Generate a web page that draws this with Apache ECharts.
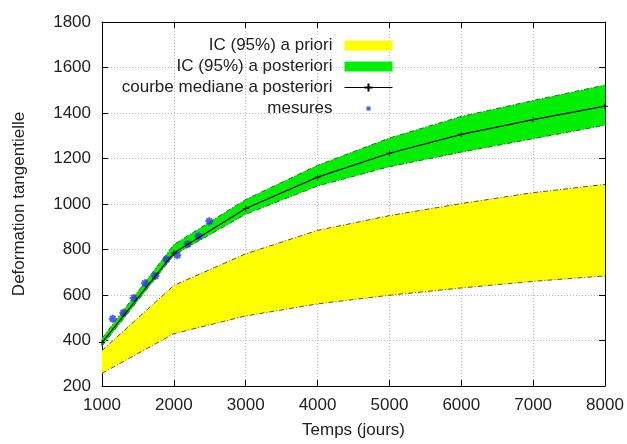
<!DOCTYPE html>
<html style="height: 100%">

<head>
    <meta charset="utf-8">
</head>

<body style="height: 100%; margin: 0; background: #fff">
    <div id="container" style="width: 627px; height: 444px"></div>
    <script src="https://cdn.jsdelivr.net/npm/echarts@6/dist/echarts.min.js"></script>
    <script type="text/javascript">
        // temps (jours)
        var temps = [1000, 2000, 3000, 4000, 5000, 6000, 7000, 8000];
        // IC 95% a priori
        var prioriBas = [256, 430, 508, 561, 599, 631, 660, 684];
        var prioriHaut = [356, 642, 781, 884, 949, 1002, 1050, 1086];
        // IC 95% a posteriori
        var postBas = [376, 775, 955, 1079, 1164, 1228, 1287, 1346];
        var postHaut = [410, 822, 1020, 1170, 1290, 1385, 1455, 1523];
        // courbe mediane
        var mediane = [391, 785, 980, 1118, 1223, 1306, 1371, 1430];
        // mesures
        var mesuresT = [1149, 1297, 1441, 1598, 1742, 1895, 2048, 2192, 2345, 2493];
        var mesuresD = [496, 522, 587, 652, 684, 756, 775, 823, 858, 924];

        function pairs(xs, ys) {
            return xs.map(function (x, i) { return [x, ys[i]]; });
        }
        function bandData(lo, hi) {
            return temps.map(function (x, i) { return [x, lo[i], hi[i]]; });
        }
        // polygone de l'intervalle, dessine une seule fois
        function bandRender(lo, hi, color) {
            return function (params, api) {
                if (params.dataIndex !== 0) return null;
                var pts = [];
                for (var i = 0; i < temps.length; i++) pts.push(api.coord([temps[i], hi[i]]));
                for (var j = temps.length - 1; j >= 0; j--) pts.push(api.coord([temps[j], lo[j]]));
                return {
                    type: 'polygon',
                    shape: { points: pts },
                    style: { fill: color }
                };
            };
        }

        var font = 'Liberation Sans, Arial, sans-serif';
        var txt = '#222';
        var fs = 17;
        var plus = 'path://M0,-5 L0,5 M-5,0 L5,0';
        var asterisque = 'path://M0,-5L0,5M-5,0L5,0M-3.5,-3.5L3.5,3.5M-3.5,3.5L3.5,-3.5';
        var petitCarre = 'path://M0,0L0,0M20,20L20,20M6,6L14,6L14,14L6,14Z';
        var noComma = function (v) { return String(v); };

        var dom = document.getElementById("container");
        var myChart = echarts.init(dom);
        var option = {
            animation: false,
            grid: { left: 102, right: 22, top: 22, bottom: 53 },
            legend: {
                orient: 'vertical',
                right: 234,
                top: 37,
                padding: 0,
                align: 'right',
                itemWidth: 48,
                itemHeight: 10,
                itemGap: 4,
                textStyle: { fontFamily: font, fontSize: fs, color: txt, padding: [0, 7, 0, 0] },
                data: [
                    { name: 'IC (95%) a priori', icon: 'rect', itemStyle: { color: '#ffff00' } },
                    { name: 'IC (95%) a posteriori', icon: 'rect', itemStyle: { color: '#00ee00' } },
                    { name: 'courbe mediane a posteriori', lineStyle: { width: 1 } },
                    { name: 'mesures', icon: petitCarre, itemStyle: { color: '#2233ee', borderWidth: 0 } }
                ]
            },
            xAxis: [{
                type: 'value',
                min: 1000,
                max: 8000,
                interval: 1000,
                name: 'Temps (jours)',
                nameLocation: 'middle',
                nameGap: 36,
                nameTextStyle: { fontFamily: font, fontSize: fs, color: txt },
                axisLine: { lineStyle: { color: '#000', width: 1 } },
                axisTick: { inside: true, length: 6, lineStyle: { color: '#000' } },
                axisLabel: { fontFamily: font, fontSize: fs, color: txt, margin: 11, formatter: noComma },
                splitLine: { lineStyle: { color: '#bbb', type: [1, 2] } }
            }, {
                type: 'value',
                position: 'top',
                min: 1000,
                max: 8000,
                interval: 1000,
                axisLine: { lineStyle: { color: '#000', width: 1 } },
                axisTick: { inside: true, length: 6, lineStyle: { color: '#000' } },
                axisLabel: { show: false },
                splitLine: { show: false }
            }],
            yAxis: [{
                type: 'value',
                min: 200,
                max: 1800,
                interval: 200,
                name: 'Deformation tangentielle',
                nameLocation: 'middle',
                nameGap: 74,
                nameTextStyle: { fontFamily: font, fontSize: fs, color: txt },
                axisLine: { show: true, lineStyle: { color: '#000', width: 1 } },
                axisTick: { show: true, inside: true, length: 6, lineStyle: { color: '#000' } },
                axisLabel: { fontFamily: font, fontSize: fs, color: txt, margin: 11, formatter: noComma },
                splitLine: { lineStyle: { color: '#bbb', type: [1, 2] } }
            }, {
                type: 'value',
                position: 'right',
                min: 200,
                max: 1800,
                interval: 200,
                axisLine: { show: true, lineStyle: { color: '#000', width: 1 } },
                axisTick: { show: true, inside: true, length: 6, lineStyle: { color: '#000' } },
                axisLabel: { show: false },
                splitLine: { show: false }
            }],
            series: [
                {
                    name: 'IC (95%) a priori',
                    type: 'custom',
                    data: bandData(prioriBas, prioriHaut),
                    encode: { x: 0, y: [1, 2] },
                    itemStyle: { color: '#ffff00' },
                    renderItem: bandRender(prioriBas, prioriHaut, '#ffff00'),
                    silent: true
                },
                {
                    name: 'prioriBas',
                    type: 'line',
                    data: pairs(temps, prioriBas),
                    showSymbol: false,
                    lineStyle: { color: '#555533', width: 1, type: [5, 2, 1, 2] },
                    silent: true
                },
                {
                    name: 'prioriHaut',
                    type: 'line',
                    data: pairs(temps, prioriHaut),
                    showSymbol: false,
                    lineStyle: { color: '#555533', width: 1, type: [5, 2, 1, 2] },
                    silent: true
                },
                {
                    name: 'IC (95%) a posteriori',
                    type: 'custom',
                    data: bandData(postBas, postHaut),
                    encode: { x: 0, y: [1, 2] },
                    itemStyle: { color: '#00ee00' },
                    renderItem: bandRender(postBas, postHaut, '#00ee00'),
                    silent: true
                },
                {
                    name: 'postBas',
                    type: 'line',
                    data: pairs(temps, postBas),
                    showSymbol: false,
                    lineStyle: { color: '#336633', width: 1, type: [5, 2, 1, 2] },
                    silent: true
                },
                {
                    name: 'postHaut',
                    type: 'line',
                    data: pairs(temps, postHaut),
                    showSymbol: false,
                    lineStyle: { color: '#336633', width: 1, type: [5, 2, 1, 2] },
                    silent: true
                },
                {
                    name: 'courbe mediane a posteriori',
                    type: 'line',
                    data: pairs(temps, mediane),
                    symbol: plus,
                    symbolSize: 6,
                    showAllSymbol: true,
                    itemStyle: { color: '#000', borderColor: '#000', borderWidth: 1 },
                    lineStyle: { color: '#000', width: 1.2 }
                },
                {
                    name: 'mesures',
                    type: 'scatter',
                    data: pairs(mesuresT, mesuresD),
                    symbol: asterisque,
                    symbolSize: 8,
                    itemStyle: { color: '#2233ee', borderColor: '#2233ee', borderWidth: 2 }
                }
            ]
        };
        if (option && typeof option === "object") {
            myChart.setOption(option, true);
        }
    </script>
</body>

</html>
